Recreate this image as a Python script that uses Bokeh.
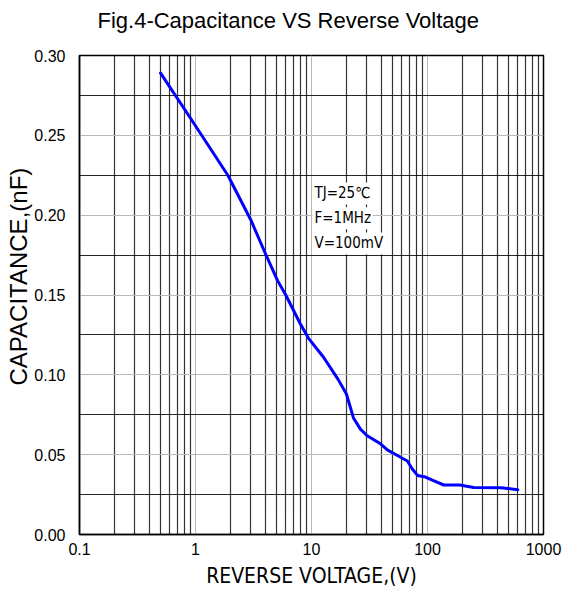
from bokeh.plotting import figure
from bokeh.models import Range1d, FixedTicker, PrintfTickFormatter, Label, Title
from bokeh.embed import file_html
from bokeh.resources import INLINE

# ---- data ----
voltage = [0.5, 0.9, 1.9, 3.0, 4.0, 5.1, 6.0, 8.0, 9.4, 12.7, 17.0, 20.0, 23.0,
           26.4, 30.0, 39.0, 45.0, 55.0, 67.0, 74.0, 82.0, 96.0, 110.0, 138.0,
           190.0, 250.0, 430.0, 600.0]
capacitance = [0.289, 0.261, 0.225, 0.197, 0.176, 0.159, 0.150, 0.132, 0.123,
               0.111, 0.097, 0.088, 0.073, 0.066, 0.062, 0.057, 0.053, 0.0495,
               0.046, 0.041, 0.037, 0.036, 0.034, 0.031, 0.031, 0.0295, 0.0293,
               0.028]

x_ticks = [0.1, 1, 10, 100, 1000]
x_tick_labels = ["0.1", "1", "10", "100", "1000"]
x_minor = [m * d for d in [0.1, 1, 10, 100] for m in range(2, 10)]
y_ticks = [0.0, 0.05, 0.10, 0.15, 0.20, 0.25, 0.30]
y_minor = [0.025, 0.075, 0.125, 0.175, 0.225, 0.275]

title_text = "Fig.4-Capacitance VS Reverse Voltage"
x_label = "REVERSE VOLTAGE,(V)"
y_label = "CAPACITANCE,(nF)"
notes = ["TJ=25℃", "F=1MHz", "V=100mV"]
notes_y = [0.2136, 0.198, 0.1823]
notes_x = 10.2

NARROW = "DejaVu Sans Condensed, Liberation Sans"

p = figure(width=572, height=597, x_axis_type="log", title=None,
           x_range=Range1d(0.1, 1000), y_range=Range1d(0, 0.3),
           output_backend="svg", toolbar_location=None,
           min_border_left=79, min_border_right=29,
           min_border_top=55, min_border_bottom=63)

p.background_fill_color = "white"
p.border_fill_color = "white"
p.outline_line_color = "black"
p.outline_line_width = 1.5

# spacer nearest the frame, then the real title further out
p.add_layout(Title(text=" ", text_font_size="10px", standoff=10), "above")
p.add_layout(Title(text=title_text, align="left", offset=18, standoff=0,
                   text_font="Liberation Sans", text_font_size="22px",
                   text_font_style="normal", text_color="black"), "above")

# y label as a side title, positioned like the reference
p.add_layout(Title(text=y_label, align="left", offset=149, standoff=0,
                   text_font="Liberation Sans", text_font_size="24px",
                   text_font_style="normal", text_color="black"), "left")

# axes
p.xaxis.ticker = FixedTicker(ticks=x_ticks, minor_ticks=x_minor)
p.yaxis.ticker = FixedTicker(ticks=y_ticks, minor_ticks=y_minor)
p.xaxis.major_label_overrides = {t: s for t, s in zip(x_ticks, x_tick_labels)}
p.yaxis.formatter = PrintfTickFormatter(format="%.2f")
for ax in (p.xaxis, p.yaxis):
    ax.major_tick_line_color = None
    ax.minor_tick_line_color = None
    ax.axis_line_color = "black"
    ax.axis_line_width = 1.5
    ax.major_label_text_font = "Liberation Sans"
    ax.major_label_text_font_size = "16px"
    ax.major_label_text_color = "black"
p.yaxis.major_label_standoff = 8
p.xaxis.major_label_standoff = 2

p.xaxis.axis_label = x_label
p.xaxis.axis_label_text_font = NARROW
p.xaxis.axis_label_text_font_size = "21px"
p.xaxis.axis_label_text_font_style = "normal"
p.xaxis.axis_label_text_color = "black"
p.xaxis.axis_label_standoff = 6

# grids
p.xgrid.grid_line_color = "#b8b8b8"
p.xgrid.grid_line_width = 1
p.xgrid.minor_grid_line_color = "black"
p.xgrid.minor_grid_line_alpha = 0.8
p.xgrid.minor_grid_line_width = 1.2
p.ygrid.grid_line_color = "#b8b8b8"
p.ygrid.grid_line_width = 1.2
p.ygrid.minor_grid_line_color = "black"
p.ygrid.minor_grid_line_alpha = 0.85
p.ygrid.minor_grid_line_width = 1.2

# curve
p.line(voltage, capacitance, line_color="#0000ff", line_width=3,
       line_join="round", line_cap="round")

# condition notes
for txt, yy in zip(notes, notes_y):
    p.add_layout(Label(x=notes_x, y=yy, text=txt, text_align="left",
                       text_baseline="middle", text_font=NARROW,
                       text_font_size="15px", text_color="black",
                       background_fill_color="white", padding=2))

open("out.html", "w").write(file_html(p, INLINE))
